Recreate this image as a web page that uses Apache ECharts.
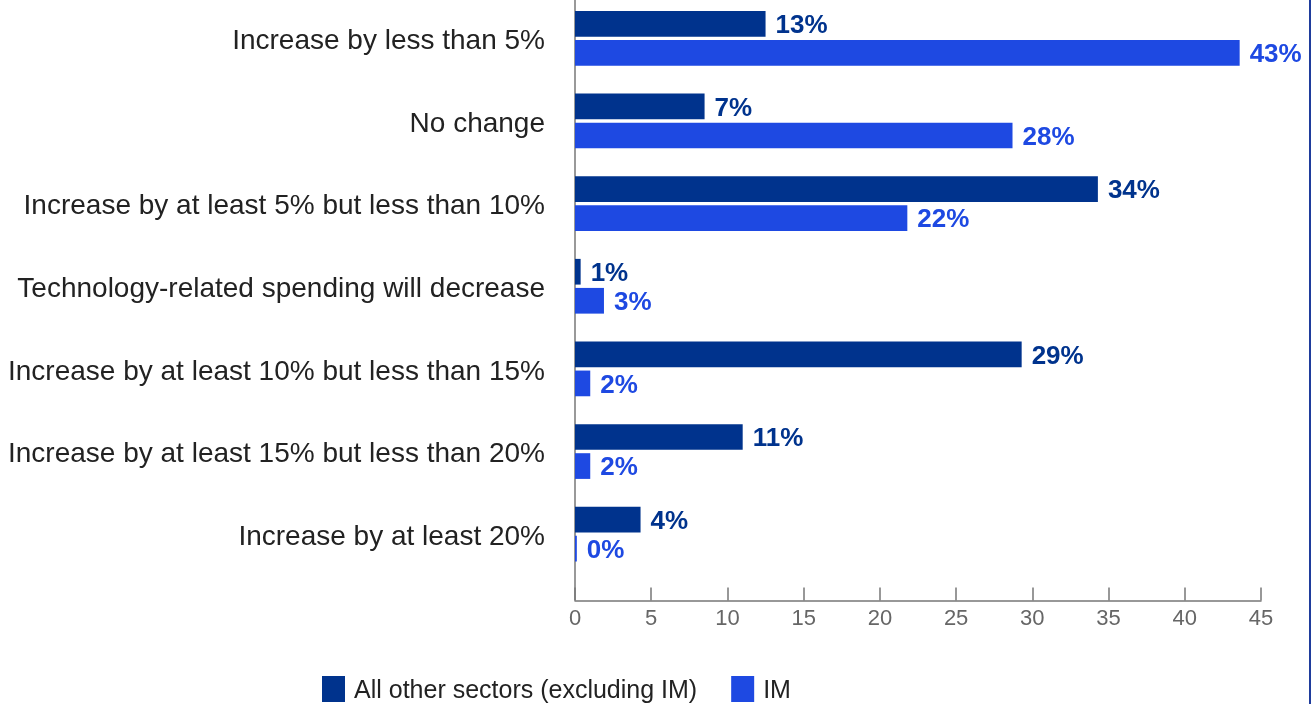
<!DOCTYPE html>
<html>
<head>
<meta charset="utf-8">
<script src="https://cdn.jsdelivr.net/npm/echarts@6/dist/echarts.min.js"></script>
<style>
html,body{margin:0;padding:0;background:#fff;}
#chart{width:1313px;height:704px;}
#edge{position:absolute;left:1309px;top:0;width:2px;height:704px;background:#1f3c9c;}
</style>
</head>
<body>
<div id="chart"></div>
<div id="edge"></div>
<script>
const categories = [
  "Increase by less than 5%",
  "No change",
  "Increase by at least 5% but less than 10%",
  "Technology-related spending will decrease",
  "Increase by at least 10% but less than 15%",
  "Increase by at least 15% but less than 20%",
  "Increase by at least 20%"
];
const seriesNames = ["All other sectors (excluding IM)", "IM"];
const otherValues = [12.5, 8.5, 34.3, 0.37, 29.3, 11.0, 4.3];
const imValues = [43.6, 28.7, 21.8, 1.9, 1.0, 1.0, 0.12];
const otherLabels = ["13%", "7%", "34%", "1%", "29%", "11%", "4%"];
const imLabels = ["43%", "28%", "22%", "3%", "2%", "2%", "0%"];
const xTicks = [0, 5, 10, 15, 20, 25, 30, 35, 40, 45];

const DARK = "#00338D";
const BRIGHT = "#1E49E2";
const FONT = "Liberation Sans, Arial, sans-serif";

const chart = echarts.init(document.getElementById("chart"));
const labelFont = { fontFamily: FONT, fontWeight: "bold", fontSize: 26 };

chart.setOption({
  animation: false,
  grid: { left: 575, right: 52, top: -3, bottom: 128.5, containLabel: false, outerBoundsMode: "none" },
  legend: {
    left: 322, top: 676, padding: 0,
    itemWidth: 23, itemHeight: 26, itemGap: 34,
    icon: "rect",
    formatter: name => "{t|" + name + "}",
    textStyle: {
      fontFamily: FONT, fontSize: 25, color: "#222",
      rich: { t: { fontFamily: FONT, fontSize: 25, color: "#222", padding: [5, 0, 0, 4] } }
    },
    data: seriesNames
  },
  xAxis: {
    type: "value",
    min: xTicks[0], max: xTicks[xTicks.length - 1], interval: 5,
    offset: 25,
    axisLine: { show: true, lineStyle: { color: "#777", width: 1.5 } },
    axisTick: { show: true, inside: true, length: 13, lineStyle: { color: "#777", width: 1.5 } },
    splitLine: { show: false },
    axisLabel: { color: "#666", fontSize: 22, fontFamily: FONT, margin: 7 }
  },
  yAxis: {
    type: "category",
    inverse: true,
    data: categories,
    axisLine: { show: false },
    axisTick: { show: false },
    axisLabel: {
      color: "#222", fontSize: 28, fontFamily: FONT, margin: 30,
      formatter: v => "{c|" + v + "}",
      rich: { c: { color: "#222", fontSize: 28, fontFamily: FONT, padding: [6, 0, 0, 0] } }
    }
  },
  series: [
    {
      name: seriesNames[0], type: "bar", data: otherValues,
      barWidth: 25.7, barGap: "13%",
      itemStyle: { color: DARK },
      label: { show: true, position: "right", distance: 10, offset: [0, 2], color: DARK, ...labelFont,
        formatter: p => otherLabels[p.dataIndex] }
    },
    {
      name: seriesNames[1], type: "bar", data: imValues,
      barWidth: 25.7, barGap: "13%",
      itemStyle: { color: BRIGHT },
      label: { show: true, position: "right", distance: 10, offset: [0, 2], color: BRIGHT, ...labelFont,
        formatter: p => imLabels[p.dataIndex] }
    }
  ]
});

// vertical axis line running from the top of the plot down to the offset x axis
const x0 = chart.convertToPixel({ xAxisIndex: 0 }, 0);
const yBottom = 704 - 128.5 + 25;
chart.setOption({
  graphic: [{
    type: "line", silent: true,
    shape: { x1: x0, y1: 0, x2: x0, y2: yBottom },
    style: { stroke: "#777", lineWidth: 1.5 }
  }]
});
</script>
</body>
</html>
